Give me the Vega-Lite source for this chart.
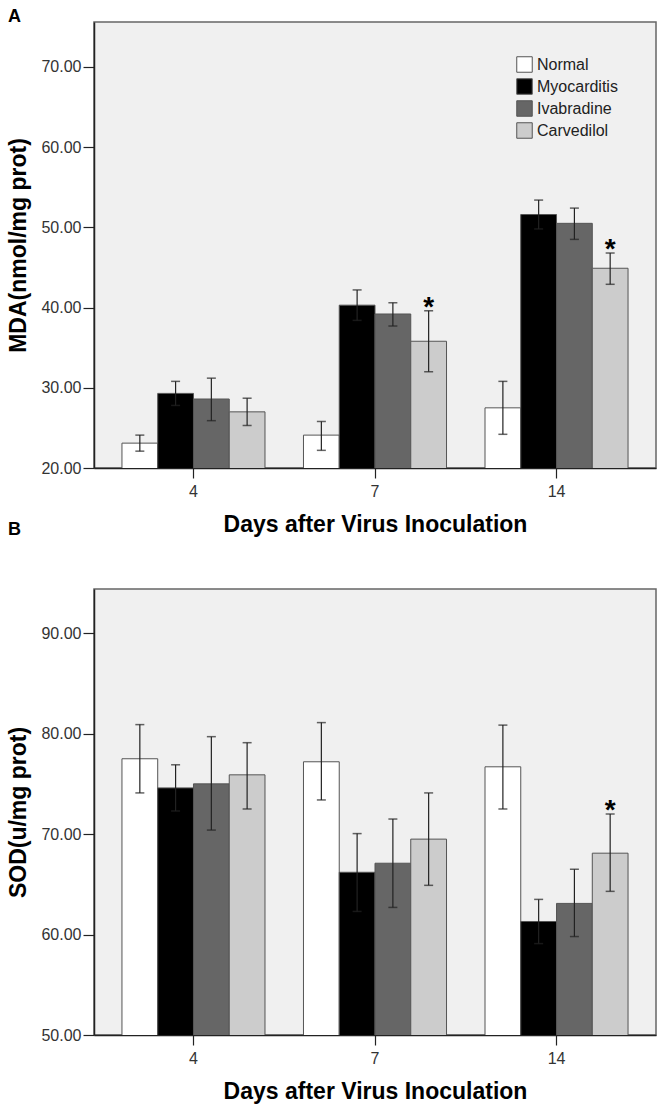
{
  "$schema": "https://vega.github.io/schema/vega-lite/v6.json",
  "padding": {"left": 7, "top": 7, "right": 0, "bottom": 0},
  "background": "white",
  "config": {
    "font": "Liberation Sans",
    "view": {"fill": "#f0f0f0", "stroke": "#666666", "strokeWidth": 1.5},
    "axis": {
      "labelFont": "Liberation Sans", "labelFontSize": 16, "labelColor": "#333333",
      "titleFont": "Liberation Sans", "titleFontSize": 23, "titleFontWeight": "bold", "titleColor": "#000000",
      "domainColor": "#222222", "domainWidth": 1.5, "tickColor": "#222222", "tickWidth": 1.2,
      "grid": false
    },
    "legend": {"labelFont": "Liberation Sans", "labelFontSize": 16, "labelColor": "#222222"},
    "title": {"font": "Liberation Sans", "fontSize": 18, "fontWeight": "bold", "anchor": "start", "frame": "bounds", "color": "#000000"}
  },
  "spacing": -17,
  "resolve": {"scale": {"color": "independent"}, "legend": {"color": "independent"}},
  "vconcat": [
    {
      "title": {"text": "A", "offset": -4},
      "width": 562,
      "height": 446,
      "data": {"values": [
        {"day": "4", "group": "Normal", "mean": 23.1, "lo": 22.1, "hi": 24.1, "sig": ""},
        {"day": "4", "group": "Myocarditis", "mean": 29.3, "lo": 27.8, "hi": 30.8, "sig": ""},
        {"day": "4", "group": "Ivabradine", "mean": 28.6, "lo": 25.9, "hi": 31.2, "sig": ""},
        {"day": "4", "group": "Carvedilol", "mean": 27.0, "lo": 25.3, "hi": 28.7, "sig": ""},
        {"day": "7", "group": "Normal", "mean": 24.1, "lo": 22.2, "hi": 25.8, "sig": ""},
        {"day": "7", "group": "Myocarditis", "mean": 40.3, "lo": 38.4, "hi": 42.2, "sig": ""},
        {"day": "7", "group": "Ivabradine", "mean": 39.2, "lo": 37.7, "hi": 40.6, "sig": ""},
        {"day": "7", "group": "Carvedilol", "mean": 35.8, "lo": 32.0, "hi": 39.6, "sig": "*"},
        {"day": "14", "group": "Normal", "mean": 27.5, "lo": 24.2, "hi": 30.8, "sig": ""},
        {"day": "14", "group": "Myocarditis", "mean": 51.6, "lo": 49.8, "hi": 53.4, "sig": ""},
        {"day": "14", "group": "Ivabradine", "mean": 50.5, "lo": 48.5, "hi": 52.4, "sig": ""},
        {"day": "14", "group": "Carvedilol", "mean": 44.9, "lo": 42.9, "hi": 46.8, "sig": "*"}
      ]},
      "encoding": {
        "x": {"field": "day", "type": "nominal", "sort": ["4", "7", "14"],
              "scale": {"paddingInner": 0.212, "paddingOuter": 0.154},
              "axis": {"title": "Days after Virus Inoculation", "labelAngle": 0, "tickSize": 10, "labelPadding": 5, "titlePadding": 14}},
        "xOffset": {"field": "group", "type": "nominal", "sort": ["Normal", "Myocarditis", "Ivabradine", "Carvedilol"], "scale": {"paddingInner": 0, "paddingOuter": 0}}
      },
      "layer": [
        {
          "mark": {"type": "bar", "stroke": "#555555", "strokeWidth": 1, "clip": true},
          "encoding": {
            "y": {"field": "mean", "type": "quantitative", "scale": {"domain": [20, 75.6], "nice": false, "zero": false},
                  "axis": {"title": "MDA(nmol/mg prot)", "values": [20, 30, 40, 50, 60, 70], "format": ".2f", "tickSize": 11, "labelPadding": 2, "titlePadding": 10}},
            "fill": {"field": "group", "type": "nominal", "sort": ["Normal", "Myocarditis", "Ivabradine", "Carvedilol"],
                     "scale": {"domain": ["Normal", "Myocarditis", "Ivabradine", "Carvedilol"], "range": ["#ffffff", "#000000", "#666666", "#cccccc"]},
                     "legend": {"title": null, "orient": "none", "legendX": 422, "legendY": 34, "symbolType": "square", "symbolSize": 240, "symbolStrokeColor": "#555555", "symbolStrokeWidth": 1, "labelOffset": 4, "rowPadding": 1}}
          }
        },
        {
          "mark": {"type": "rule", "color": "#222222", "strokeWidth": 1.2},
          "encoding": {"y": {"field": "lo", "type": "quantitative"}, "y2": {"field": "hi"}}
        },
        {
          "mark": {"type": "tick", "color": "#222222", "size": 9, "thickness": 1.5},
          "encoding": {"y": {"field": "lo", "type": "quantitative"}}
        },
        {
          "mark": {"type": "tick", "color": "#222222", "size": 9, "thickness": 1.5},
          "encoding": {"y": {"field": "hi", "type": "quantitative"}}
        },
        {
          "mark": {"type": "text", "fontSize": 28, "fontWeight": "bold", "baseline": "middle", "dy": -3, "color": "#000000"},
          "encoding": {"y": {"field": "hi", "type": "quantitative"}, "text": {"field": "sig"}}
        }
      ]
    },
    {
      "title": {"text": "B", "offset": 50},
      "width": 562,
      "height": 446,
      "data": {"values": [
        {"day": "4", "group": "Normal", "mean": 77.5, "lo": 74.1, "hi": 80.9, "sig": ""},
        {"day": "4", "group": "Myocarditis", "mean": 74.6, "lo": 72.3, "hi": 76.9, "sig": ""},
        {"day": "4", "group": "Ivabradine", "mean": 75.0, "lo": 70.4, "hi": 79.7, "sig": ""},
        {"day": "4", "group": "Carvedilol", "mean": 75.9, "lo": 72.5, "hi": 79.1, "sig": ""},
        {"day": "7", "group": "Normal", "mean": 77.2, "lo": 73.4, "hi": 81.1, "sig": ""},
        {"day": "7", "group": "Myocarditis", "mean": 66.2, "lo": 62.3, "hi": 70.05, "sig": ""},
        {"day": "7", "group": "Ivabradine", "mean": 67.1, "lo": 62.7, "hi": 71.5, "sig": ""},
        {"day": "7", "group": "Carvedilol", "mean": 69.5, "lo": 64.9, "hi": 74.1, "sig": ""},
        {"day": "14", "group": "Normal", "mean": 76.7, "lo": 72.5, "hi": 80.85, "sig": ""},
        {"day": "14", "group": "Myocarditis", "mean": 61.3, "lo": 59.1, "hi": 63.5, "sig": ""},
        {"day": "14", "group": "Ivabradine", "mean": 63.1, "lo": 59.8, "hi": 66.5, "sig": ""},
        {"day": "14", "group": "Carvedilol", "mean": 68.1, "lo": 64.3, "hi": 72.0, "sig": "*"}
      ]},
      "encoding": {
        "x": {"field": "day", "type": "nominal", "sort": ["4", "7", "14"],
              "scale": {"paddingInner": 0.212, "paddingOuter": 0.154},
              "axis": {"title": "Days after Virus Inoculation", "labelAngle": 0, "tickSize": 10, "labelPadding": 5, "titlePadding": 14}},
        "xOffset": {"field": "group", "type": "nominal", "sort": ["Normal", "Myocarditis", "Ivabradine", "Carvedilol"], "scale": {"paddingInner": 0, "paddingOuter": 0}}
      },
      "layer": [
        {
          "mark": {"type": "bar", "stroke": "#555555", "strokeWidth": 1, "clip": true},
          "encoding": {
            "y": {"field": "mean", "type": "quantitative", "scale": {"domain": [50, 94.4], "nice": false, "zero": false},
                  "axis": {"title": "SOD(u/mg prot)", "values": [50, 60, 70, 80, 90], "format": ".2f", "tickSize": 11, "labelPadding": 2, "titlePadding": 10}},
            "fill": {"field": "group", "type": "nominal", "sort": ["Normal", "Myocarditis", "Ivabradine", "Carvedilol"],
                     "scale": {"domain": ["Normal", "Myocarditis", "Ivabradine", "Carvedilol"], "range": ["#ffffff", "#000000", "#666666", "#cccccc"]},
                     "legend": {"title": null, "orient": "none", "legendX": 422, "legendY": 34, "symbolType": "square", "symbolSize": 240, "symbolStrokeColor": "#555555", "symbolStrokeWidth": 1, "labelOffset": 4, "rowPadding": 1}}
          }
        },
        {
          "mark": {"type": "rule", "color": "#222222", "strokeWidth": 1.2},
          "encoding": {"y": {"field": "lo", "type": "quantitative"}, "y2": {"field": "hi"}}
        },
        {
          "mark": {"type": "tick", "color": "#222222", "size": 9, "thickness": 1.5},
          "encoding": {"y": {"field": "lo", "type": "quantitative"}}
        },
        {
          "mark": {"type": "tick", "color": "#222222", "size": 9, "thickness": 1.5},
          "encoding": {"y": {"field": "hi", "type": "quantitative"}}
        },
        {
          "mark": {"type": "text", "fontSize": 28, "fontWeight": "bold", "baseline": "middle", "dy": -3, "color": "#000000"},
          "encoding": {"y": {"field": "hi", "type": "quantitative"}, "text": {"field": "sig"}}
        }
      ]
    }
  ]
}
